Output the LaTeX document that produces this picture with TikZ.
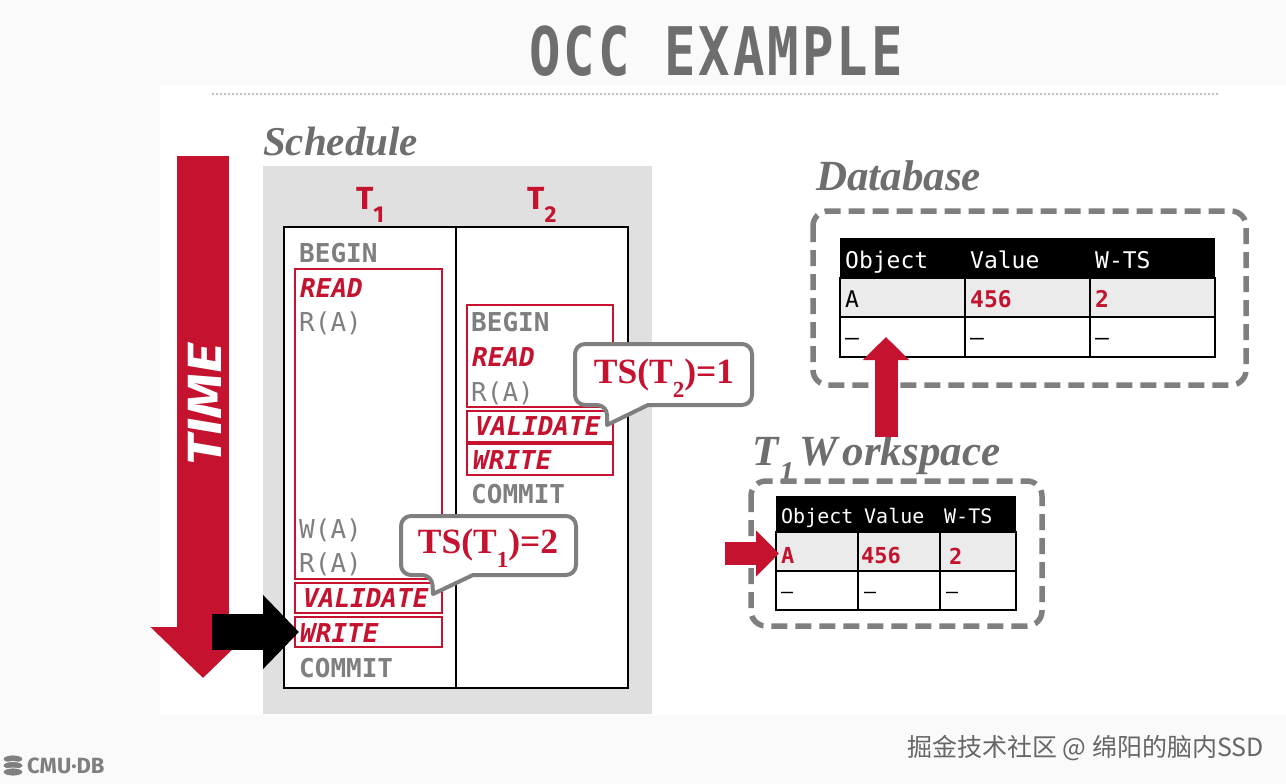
\documentclass[tikz,border=0pt]{standalone}
\usepackage{fontspec}
\usepackage{tikz}
\usetikzlibrary{arrows.meta}
\newfontfamily\monofont{DejaVu Sans Mono}
\newfontfamily\titlefont[FakeStretch=0.78,LetterSpace=4.5]{DejaVu Sans Mono}
\newfontfamily\serifont{Liberation Serif}
\newfontfamily\headfont{Fira Sans}
\newfontfamily\timefont[FakeStretch=1.2]{Fira Sans}
\newfontfamily\cjkfont{Noto Sans CJK SC}
\definecolor{cmured}{HTML}{C4122F}
\definecolor{slidegrey}{HTML}{7F7F7F}
\definecolor{titlegrey}{HTML}{6E6E6E}
\definecolor{panelgrey}{HTML}{E0E0E0}
\definecolor{rowgrey}{HTML}{EBEBEB}
\newcommand{\lowidx}[2]{\raisebox{-0.4em}{\fontsize{#1}{#1}\selectfont #2}}
\begin{document}
\begin{tikzpicture}[x=1pt,y=-1pt,
    op/.style={anchor=base west,inner sep=0pt,font=\monofont\fontsize{26}{26}\selectfont},
    opbegin/.style={op,text=slidegrey,font=\monofont\bfseries\fontsize{26}{26}\selectfont},
    opread/.style={op,text=slidegrey},
    opred/.style={op,text=cmured,font=\monofont\bfseries\itshape\fontsize{26}{26}\selectfont},
    redbox/.style={draw=cmured,line width=1.4pt},
    headings/.style={anchor=base west,inner sep=0pt,text=titlegrey,font=\serifont\bfseries\itshape\fontsize{43}{43}\selectfont},
    bubble/.style={draw=slidegrey,line width=4pt,fill=white,line join=round},
    tstext/.style={inner sep=0pt,text=cmured,font=\serifont\bfseries\fontsize{35.5}{35.5}\selectfont},
    dashbox/.style={draw=slidegrey,line width=5.5pt,rounded corners=15pt,dash pattern=on 16pt off 8pt},
    tableline/.style={draw=black,line width=1.8pt},
    cell/.style={anchor=base west,inner sep=0pt,font=\monofont\fontsize{23}{23}\selectfont},
    smallcell/.style={anchor=base west,inner sep=0pt,font=\monofont\fontsize{20}{20}\selectfont},
    thin arrow/.style={cmured,line width=23pt,-{Triangle[length=23pt,width=45pt]}}]
  \useasboundingbox (0,0) rectangle (1286,784);

  % slide background
  \fill[black!2] (0,0) rectangle (1286,784);
  \fill[white] (160,85) rectangle (1286,715);

  % title
  \node[inner sep=0pt,text=titlegrey,font=\titlefont\bfseries\fontsize{67}{67}\selectfont] (title) at (716,51) {OCC EXAMPLE};
  \draw[black!25,line width=2pt,dash pattern=on 2pt off 2pt] (212,94) -- (1218,94);

  % time arrow
  \coordinate (timetop) at (203,156);
  \coordinate (timetip) at (203,678);
  \draw[cmured,line width=52pt,-{Triangle[length=51pt,width=102pt]}] (timetop) -- (timetip);
  \node[rotate=90,inner sep=0pt,text=white,font=\timefont\bfseries\itshape\fontsize{48}{48}\selectfont] (timelabel) at (205,405) {TIME};

  % schedule panel
  \node[headings,font=\serifont\bfseries\itshape\fontsize{41}{41}\selectfont] (schedule) at (263,155) {Schedule};
  \fill[panelgrey] (263,166) rectangle (652,714);
  \draw[fill=white,line width=1.5pt] (284,227) rectangle (628,688);
  \draw[line width=1.5pt] (456,227) -- (456,688);
  \node[inner sep=0pt,text=cmured,font=\headfont\bfseries\fontsize{32}{32}\selectfont] (tone) at (370,205) {T\lowidx{23}{1}};
  \node[inner sep=0pt,text=cmured,font=\headfont\bfseries\fontsize{32}{32}\selectfont] (ttwo) at (542,205) {T\lowidx{23}{2}};

  % T1 column
  \draw[redbox] (295,269) rectangle (442,579);
  \draw[redbox] (295,583) rectangle (442,613);
  \draw[redbox] (295,617) rectangle (442,647);
  \node[opbegin] (onebegin) at (299,262) {BEGIN};
  \node[opred] (oneread) at (300,297) {READ};
  \node[opread] (onera) at (299,331) {R(A)};
  \node[opread] (onewa) at (299,538) {W(A)};
  \node[opread] (onerb) at (299,572) {R(A)};
  \node[opred] (onevalidate) at (303,607) {VALIDATE};
  \node[opred] (onewrite) at (300,642) {WRITE};
  \node[opbegin] (onecommit) at (299,677) {COMMIT};

  % T2 column
  \draw[redbox] (467,305) rectangle (613,407);
  \draw[redbox] (467,411) rectangle (613,442);
  \draw[redbox] (467,444) rectangle (613,475);
  \node[opbegin] (twobegin) at (471,331) {BEGIN};
  \node[opred] (tworead) at (472,366) {READ};
  \node[opread] (twora) at (471,401) {R(A)};
  \node[opred] (twovalidate) at (475,435) {VALIDATE};
  \node[opred] (twowrite) at (473,469) {WRITE};
  \node[opbegin] (twocommit) at (471,503) {COMMIT};

  % timestamps
  \draw[bubble] (607,405) -- (607,425) -- (648,405) [rounded corners=10pt] -- (752,405) -- (752,344) -- (575,344) -- (575,405) -- cycle;
  \node[tstext] (tstwo) at (664,378) {TS(T\lowidx{23}{2})=1};
  \draw[bubble] (432,575) -- (433,594) -- (473,575) [rounded corners=10pt] -- (576,575) -- (576,516) -- (401,516) -- (401,575) -- cycle;
  \node[tstext] (tsone) at (488,548) {TS(T\lowidx{23}{1})=2};

  % current step
  \coordinate (stepstart) at (212,632);
  \coordinate (steptip) at (299,632);
  \draw[black,line width=36pt,-{Triangle[length=36pt,width=72pt]}] (stepstart) -- (steptip);

  % database
  \node[headings] (database) at (816,190) {Database};
  \draw[dashbox] (813,211) rectangle (1246,385);
  \fill[black] (840,238) rectangle (1215,278);
  \fill[rowgrey] (840,278) rectangle (1215,317);
  \draw[tableline] (840,278) rectangle (1215,357) (840,317) -- (1215,317)
    (965,278) -- (965,357) (1090,278) -- (1090,357);
  \node[cell,text=white] (dbobject) at (845,268) {Object};
  \node[cell,text=white] (dbvalue) at (970,268) {Value};
  \node[cell,text=white] (dbwts) at (1095,268) {W-TS};
  \node[cell] (dba) at (845,307) {A};
  \node[cell,text=cmured,font=\monofont\bfseries\fontsize{23}{23}\selectfont] (dbval) at (970,307) {456};
  \node[cell,text=cmured,font=\monofont\bfseries\fontsize{23}{23}\selectfont] (dbts) at (1095,307) {2};
  \node[cell] (dbdasha) at (845,345) {–};
  \node[cell] (dbdashb) at (970,345) {–};
  \node[cell] (dbdashc) at (1095,345) {–};

  % workspace
  \node[headings] (workspace) at (752,465) {T\lowidx{30}{\kern1pt 1}\kern5pt W\kern5pt orkspace};
  \draw[dashbox] (751,481) rectangle (1042,626);
  \fill[black] (776,496) rectangle (1016,532);
  \fill[rowgrey] (776,532) rectangle (1016,571);
  \draw[tableline] (776,532) rectangle (1016,610) (776,571) -- (1016,571)
    (858,532) -- (858,610) (940,532) -- (940,610);
  \node[smallcell,text=white] (wsobject) at (781,523) {Object};
  \node[smallcell,text=white] (wsvalue) at (864,523) {Value};
  \node[smallcell,text=white] (wswts) at (944,523) {W-TS};
  \node[smallcell,text=cmured,font=\monofont\bfseries\fontsize{22}{22}\selectfont] (wsa) at (781,563) {A};
  \node[smallcell,text=cmured,font=\monofont\bfseries\fontsize{22}{22}\selectfont] (wsval) at (861,563) {456};
  \node[smallcell,text=cmured,font=\monofont\bfseries\fontsize{22}{22}\selectfont] (wsts) at (949,564) {2};
  \node[smallcell] (wsdasha) at (781,598) {–};
  \node[smallcell] (wsdashb) at (864,598) {–};
  \node[smallcell] (wsdashc) at (946,598) {–};

  % red arrows
  \coordinate (copystart) at (886,437);
  \coordinate (copytip) at (886,337);
  \draw[thin arrow] (copystart) -- (copytip);
  \coordinate (rowstart) at (725,553.5);
  \coordinate (rowtip) at (779,553.5);
  \draw[thin arrow] (rowstart) -- (rowtip);

  % footer
  \foreach \ylogo in {759,765.5,772}
    \draw[fill=slidegrey,draw=black!2,line width=0.8pt] (13,\ylogo) ellipse (10 and 4);
  \node[anchor=base west,inner sep=0pt,text=slidegrey,font=\headfont\bfseries\fontsize{22}{22}\selectfont] (cmudb) at (27,773) {CMU·DB};
  \node[anchor=base west,inner sep=0pt,text=black!60,font=\cjkfont\fontsize{25}{25}\selectfont] (mark) at (907,756) {掘金技术社区 @ 绵阳的脑内SSD};
\end{tikzpicture}
\end{document}
